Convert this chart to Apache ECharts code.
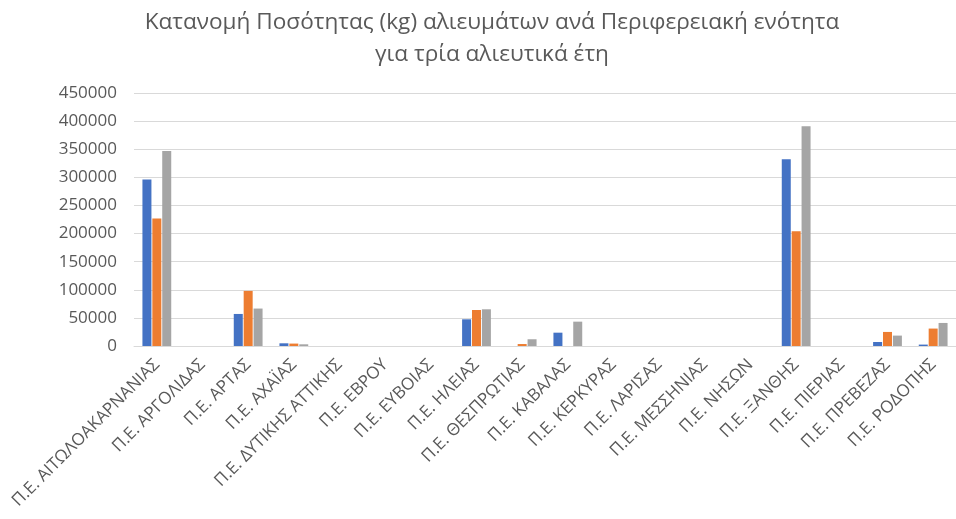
<!DOCTYPE html>
<html>
<head>
<meta charset="utf-8">
<script src="https://cdn.jsdelivr.net/npm/echarts@6/dist/echarts.min.js"></script>
<style>
html,body{margin:0;padding:0;background:#fff;}
#chart{width:956px;height:519px;}
</style>
</head>
<body>
<div id="chart"></div>
<script>
const titleText = "Κατανομή Ποσότητας (kg) αλιευμάτων ανά Περιφερειακή ενότητα\nγια τρία αλιευτικά έτη";
const categories = [
  "Π.Ε. ΑΙΤΩΛΟΑΚΑΡΝΑΝΙΑΣ","Π.Ε. ΑΡΓΟΛΙΔΑΣ","Π.Ε. ΑΡΤΑΣ","Π.Ε. ΑΧΑΪΑΣ",
  "Π.Ε. ΔΥΤΙΚΗΣ ΑΤΤΙΚΗΣ","Π.Ε. ΕΒΡΟΥ","Π.Ε. ΕΥΒΟΙΑΣ","Π.Ε. ΗΛΕΙΑΣ",
  "Π.Ε. ΘΕΣΠΡΩΤΙΑΣ","Π.Ε. ΚΑΒΑΛΑΣ","Π.Ε. ΚΕΡΚΥΡΑΣ","Π.Ε. ΛΑΡΙΣΑΣ",
  "Π.Ε. ΜΕΣΣΗΝΙΑΣ","Π.Ε. ΝΗΣΩΝ","Π.Ε. ΞΑΝΘΗΣ","Π.Ε. ΠΙΕΡΙΑΣ",
  "Π.Ε. ΠΡΕΒΕΖΑΣ","Π.Ε. ΡΟΔΟΠΗΣ"
];
const series1 = [296000, 0, 57000, 4800, 0, 0, 0, 47500, 0, 23700, 0, 0, 0, 0, 332000, 0, 7100, 2500];
const series2 = [227000, 0, 98000, 4300, 0, 0, 0, 64000, 3500, 0, 0, 0, 0, 0, 204000, 0, 25000, 31000];
const series3 = [347000, 0, 66600, 3000, 0, 0, 0, 65300, 12000, 43300, 0, 0, 0, 0, 391000, 0, 18500, 41000];
const yMax = 450000;
const yInterval = 50000;

const chart = echarts.init(document.getElementById('chart'));
const textColor = '#595959';
const font = 'Open Sans';
chart.setOption({
  animation: false,
  backgroundColor: '#ffffff',
  title: {
    text: titleText,
    left: 487,
    top: 2,
    textAlign: 'center',
    textStyle: {
      color: textColor,
      fontFamily: font,
      fontWeight: 'normal',
      fontSize: 22.6,
      lineHeight: 32
    }
  },
  grid: { left: 134, right: -8, top: 93, bottom: 173, containLabel: false },
  xAxis: {
    type: 'category',
    data: categories,
    axisLine: { show: true, lineStyle: { color: '#d9d9d9', width: 1 } },
    axisTick: { show: false },
    axisLabel: {
      interval: 0,
      rotate: 45,
      margin: 16,
      color: textColor,
      fontFamily: font,
      fontSize: 17
    }
  },
  yAxis: {
    type: 'value',
    min: 0,
    max: yMax,
    interval: yInterval,
    axisLine: { show: false },
    axisTick: { show: false },
    axisLabel: {
      margin: 17,
      color: textColor,
      fontFamily: font,
      fontSize: 17,
      formatter: function (v) { return String(v); }
    },
    splitLine: { lineStyle: { color: '#d9d9d9', width: 1 } }
  },
  series: [
    { name: 'Έτος 1', type: 'bar', data: series1, barWidth: 9, barGap: '10%', itemStyle: { color: '#4472C4' } },
    { name: 'Έτος 2', type: 'bar', data: series2, barWidth: 9, barGap: '10%', itemStyle: { color: '#ED7D31' } },
    { name: 'Έτος 3', type: 'bar', data: series3, barWidth: 9, barGap: '10%', itemStyle: { color: '#A5A5A5' } }
  ]
});
</script>
</body>
</html>
